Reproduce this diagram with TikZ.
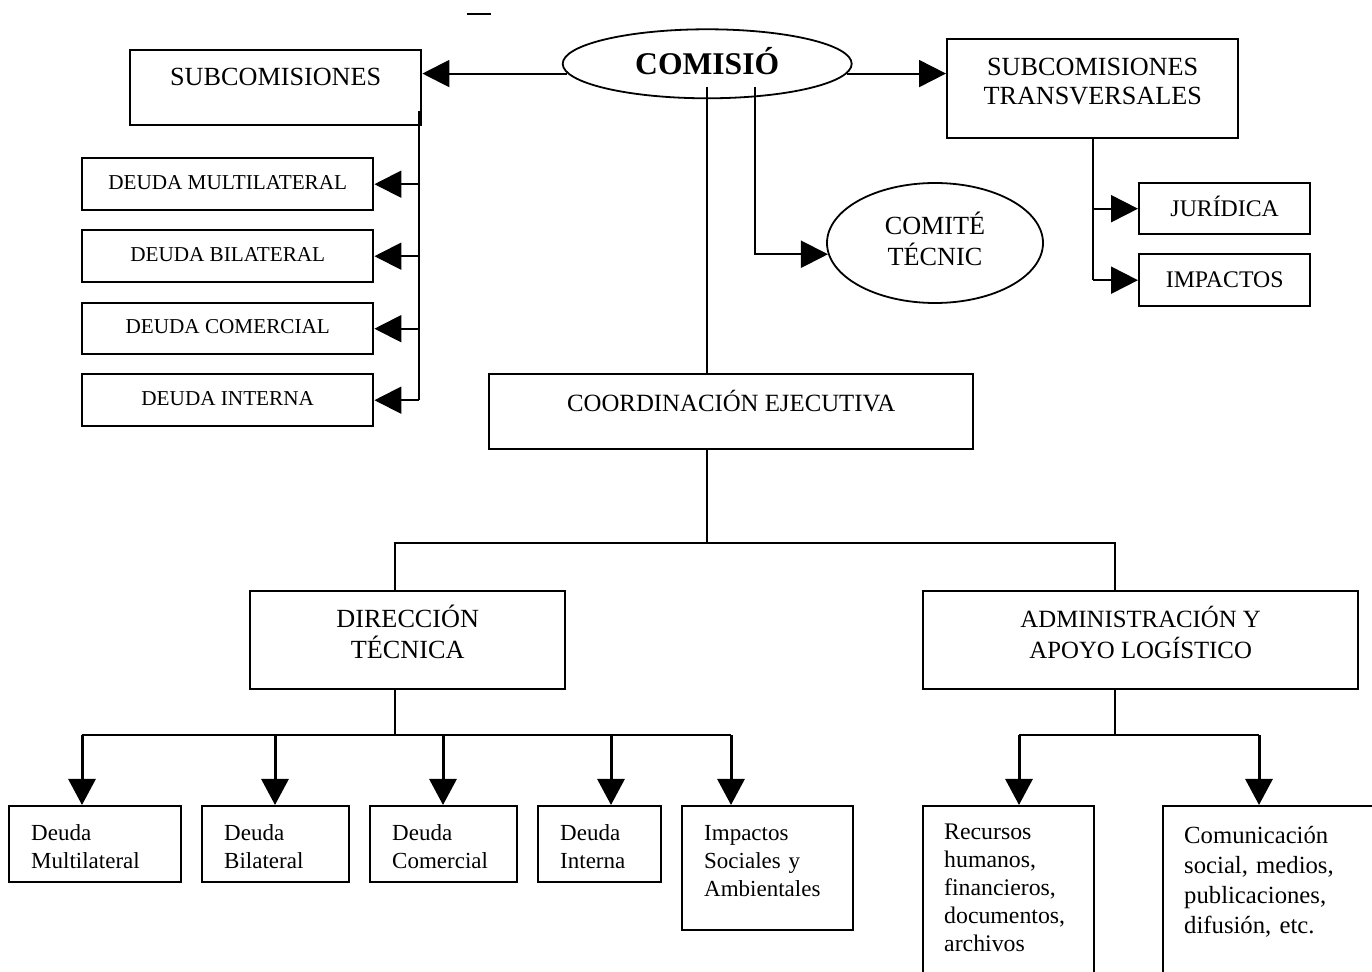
\documentclass[tikz,border=0pt]{standalone}
\usepackage{fontspec}
\setmainfont{Liberation Serif}
\usetikzlibrary{arrows.meta,shapes.geometric}
\newcommand\FtA{\fontsize{13.1}{14.5}\selectfont}
\newcommand\FtB{\fontsize{13.1}{15.5}\selectfont}
\newcommand\FtC{\fontsize{12.4}{15.5}\selectfont}
\newcommand\FtD{\fontsize{10.6}{13}\selectfont}
\newcommand\FtE{\fontsize{11.9}{14}\selectfont}
\newcommand\FtF{\fontsize{11.5}{14}\selectfont}
\newcommand\FtG{\fontsize{12.35}{15}\selectfont}
\newcommand\FtH{\fontsize{15.8}{18}\selectfont\bfseries}
\begin{document}
\begin{tikzpicture}[x=0.5pt,y=-0.5pt,
  box/.style={draw, line width=1.2pt, rectangle, inner sep=0pt, anchor=north west},
  lbox/.style={box, inner xsep=11pt, align=left},
  oval/.style={draw, line width=0.9pt, ellipse, inner sep=0pt},
  conn/.style={line width=1pt},
  arr/.style={line width=1pt, -{Triangle[length=13.5pt,width=13.5pt]}},
  darr/.style={line width=1.5pt, -{Triangle[length=13pt,width=13.5pt]}}
]
\useasboundingbox (0,0) rectangle (1372,972);
\clip (0,0) rectangle (1372,972);
\frenchspacing

% stray dash at top
\draw[line width=1pt] (467,14) -- (491,14);

% top level
\node[oval, minimum width=144.5pt, minimum height=34.5pt, text height=11.2pt, text depth=0pt, font=\FtH] (comision) at (707.2,63.8) {COMISIÓ};
\node[box, minimum width=145.5pt, text height=17.5pt, text depth=20pt, font=\FtA] (sub) at (129,49) {SUBCOMISIONES};
\node[box, minimum width=145.5pt, text height=32.5pt, text depth=17pt, font=\FtA, align=center] (trans) at (946,38) {SUBCOMISIONES\\TRANSVERSALES};

% left list
\node[box, minimum width=145.5pt, text height=15.5pt, text depth=10.5pt, font=\FtD] (dm) at (81,157) {DEUDA MULTILATERAL};
\node[box, minimum width=145.5pt, text height=15.5pt, text depth=10.5pt, font=\FtD] (db) at (81,229) {DEUDA BILATERAL};
\node[box, minimum width=145.5pt, text height=15pt, text depth=10.5pt, font=\FtD] (dc) at (81,302) {DEUDA COMERCIAL};
\node[box, minimum width=145.5pt, text height=15.5pt, text depth=10.5pt, font=\FtD] (di) at (81,373) {DEUDA INTERNA};

% right list
\node[box, minimum width=85.5pt, text height=16.5pt, text depth=9pt, font=\FtE] (jur) at (1138,182) {JURÍDICA};
\node[box, minimum width=85.5pt, text height=16.8pt, text depth=9.2pt, font=\FtE] (imp) at (1138,253) {IMPACTOS};

% comite
\node[oval, minimum width=108pt, minimum height=60pt, text height=24.5pt, text depth=1.5pt, font=\FtB, align=center] (comite) at (935,243) {COMITÉ\\TÉCNIC};

% coordination
\node[box, minimum width=242pt, text height=18.5pt, text depth=19pt, font=\FtC] (coord) at (488,373) {COORDINACIÓN EJECUTIVA};
\node[box, minimum width=157.5pt, text height=33.5pt, text depth=15.5pt, font=\FtB, align=center] (dir) at (249,590) {DIRECCIÓN\\TÉCNICA};
\node[box, minimum width=217.5pt, text height=33.5pt, text depth=15.5pt, font=\FtC, align=center] (adm) at (922,590) {ADMINISTRACIÓN Y\\APOYO LOGÍSTICO};

% bottom boxes
\node[lbox, text width=64pt, text height=17pt, text depth=21pt, font=\FtF] (b1) at (8,805) {Deuda\\Multilateral};
\node[lbox, text width=51.5pt, text height=17pt, text depth=21pt, font=\FtF] (b2) at (201,805) {Deuda\\Bilateral};
\node[lbox, text width=51.5pt, text height=17pt, text depth=21pt, font=\FtF] (b3) at (369,805) {Deuda\\Comercial};
\node[lbox, text width=39.5pt, text height=17pt, text depth=21pt, font=\FtF] (b4) at (537,805) {Deuda\\Interna};
\node[lbox, text width=63.5pt, text height=17pt, text depth=45pt, font=\FtF] (b5) at (681,805) {Impactos\\Sociales y\\Ambientales};
\node[lbox, inner xsep=10.5pt, text width=64.5pt, text height=16.5pt, text depth=81pt, font=\FtE] (rec) at (922,805) {Recursos\\humanos,\\financieros,\\documentos,\\archivos};
\node[lbox, inner xsep=10.5pt, text width=99pt, text height=18.5pt, text depth=79pt, font=\FtG] (com) at (1162,805) {Comunicación\\social, medios,\\publicaciones,\\difusión, etc.};

% connectors from COMISIÓ
\draw[arr] (comision.184) -- (comision.184 -| sub.east);
\draw[arr] (comision.-4) -- (comision.-4 -| trans.west);
\coordinate (v1) at (707,87);
\coordinate (v2) at (755,87);
\draw[conn] (v1) -- (v1 |- coord.north);
\draw[arr] (v2) |- (comite.186);

% left trunk
\coordinate (t1) at (419,111);
\draw[conn] (t1) -- (t1 |- di.east);
\foreach \n in {dm,db,dc,di}{\draw[arr] (t1 |- \n.east) -- (\n.east);}

% transversal trunk
\draw[conn] (trans.south) -- (trans.south |- imp.west);
\foreach \n in {jur,imp}{\draw[arr] (trans.south |- \n.west) -- (\n.west);}

% coordination branches
\coordinate (jl) at (395,543);
\coordinate (jr) at (1115,543);
\coordinate (jc) at (707,543);
\draw[conn] (jc |- coord.south) -- (jc);
\draw[conn] (jl |- dir.north) -- (jl) -- (jr) -- (jr |- adm.north);

% lower left bus
\coordinate (bl) at (395,735);
\draw[conn] (bl |- dir.south) -- (bl);
\coordinate (a1) at (82,735);
\coordinate (a2) at (275,735);
\coordinate (a3) at (443,735);
\coordinate (a4) at (611,735);
\coordinate (a5) at (731,735);
\draw[line width=0.9pt] (a1) -- (a5);
\draw[darr] (a1) -- (a1 |- b1.north);
\draw[darr] (a2) -- (a2 |- b2.north);
\draw[darr] (a3) -- (a3 |- b3.north);
\draw[darr] (a4) -- (a4 |- b4.north);
\draw[darr] (a5) -- (a5 |- b5.north);

% lower right bus
\coordinate (br) at (1115,735);
\draw[conn] (br |- adm.south) -- (br);
\coordinate (c1) at (1019,735);
\coordinate (c2) at (1259,735);
\draw[line width=0.9pt] (c1) -- (c2);
\draw[darr] (c1) -- (c1 |- rec.north);
\draw[darr] (c2) -- (c2 |- com.north);
\end{tikzpicture}
\end{document}
